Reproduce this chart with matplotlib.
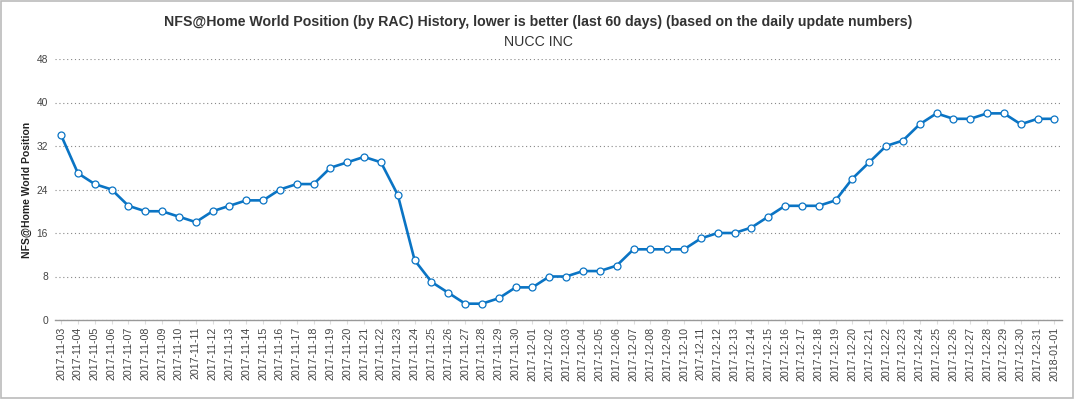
import matplotlib
matplotlib.use("Agg")
import matplotlib.pyplot as plt
from matplotlib.patches import Rectangle

# daily world position (lower is better)
dates = (
    [f"2017-11-{d:02d}" for d in range(3, 31)]
    + [f"2017-12-{d:02d}" for d in range(1, 32)]
    + ["2018-01-01"]
)
positions = [
    34, 27, 25, 24, 21, 20, 20, 19, 18, 20, 21, 22, 22, 24, 25, 25, 28, 29, 30, 29,
    23, 11, 7, 5, 3, 3, 4, 6,
    6, 8, 8, 9, 9, 10, 13, 13, 13, 13, 15, 16, 16, 17, 19, 21, 21, 21, 22, 26, 29,
    32, 33, 36, 38, 37, 37, 38, 38, 36, 37,
    37,
]
y_ticks = [0, 8, 16, 24, 32, 40, 48]

plt.rcParams["font.family"] = ["Liberation Sans", "DejaVu Sans"]

fig = plt.figure(figsize=(10.76, 4.0), dpi=100)
ax = fig.add_axes([55 / 1076, 0.2, (1062 - 55) / 1076, 0.8525 - 0.2])

x = list(range(len(dates)))
ax.plot(x, positions, color="#0a74c4", linewidth=1.9, zorder=3,
        marker="o", markersize=5, markerfacecolor="white",
        markeredgecolor="#0a74c4", markeredgewidth=0.9)

ax.set_xlim(-0.36, len(dates) - 1 + 0.45)
ax.set_ylim(0, 48)
ax.set_yticks(y_ticks)
ax.set_xticks(x)
ax.set_xticklabels(dates, rotation=90, fontsize=7.7, color="#444444")
ax.tick_params(axis="y", length=0, labelsize=7.4, labelcolor="#444444", pad=5)
ax.tick_params(axis="x", length=3, color="#dddddd", pad=2)

ax.grid(axis="y", linestyle=(0, (1, 2.5)), color="#888888", linewidth=0.8)
for s in ["top", "right", "left"]:
    ax.spines[s].set_visible(False)
ax.spines["bottom"].set_color("#999999")
ax.spines["bottom"].set_linewidth(1.0)

ax.set_ylabel("NFS@Home World Position", fontsize=7.5, fontweight="bold",
              color="#222222", labelpad=3)

fig.text(0.5, 1 - 22 / 400, "NFS@Home World Position (by RAC) History, lower is better "
         "(last 60 days) (based on the daily update numbers)",
         ha="center", va="center", fontsize=10.2, fontweight="bold", color="#333333")
fig.text(0.5, 1 - 42 / 400, "NUCC INC", ha="center", va="center",
         fontsize=10.2, color="#333333")

fig.patches.append(Rectangle((0.001, 0.006), 0.996, 0.992, transform=fig.transFigure,
                             fill=False, edgecolor="#bbbbbb", linewidth=1.2))

fig.savefig("out.png", dpi=100, facecolor="white")
